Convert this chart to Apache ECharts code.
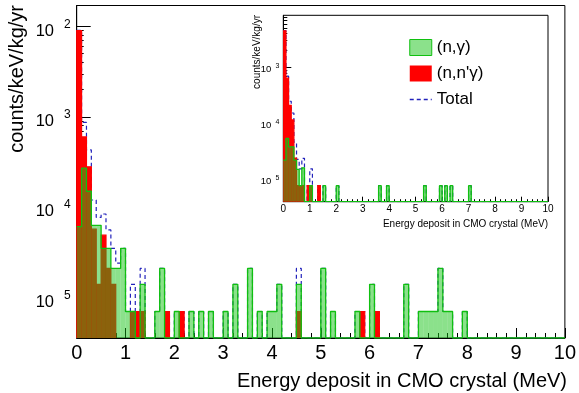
<!DOCTYPE html>
<html>
<head>
<meta charset="utf-8">
<script src="https://cdn.jsdelivr.net/npm/echarts@6/dist/echarts.min.js"></script>
<style>
  html, body { margin: 0; padding: 0; background: #fff; }
  #chart { width: 579px; height: 393px; }
</style>
</head>
<body>
<div id="chart"></div>
<script>
// Energy-deposit spectra, 0.1 MeV bins, given as [bin low edge (MeV), counts/keV/kg/yr]
const BIN = 0.1;
const E_MAX = 10;

// main panel
const mainNGamma = [
  [0.0, 6.1e-5], [0.1, 2.7e-4], [0.2, 1.5e-4], [0.3, 6.3e-5], [0.4, 6.3e-5],
  [0.5, 3.5e-5], [0.6, 3.5e-5], [0.7, 2.1e-5], [0.8, 2.1e-5], [0.9, 3.5e-5],
  [1.0, 7.0e-6], [1.1, 7.0e-6], [1.3, 1.4e-5], [1.6, 7.0e-6], [1.7, 2.1e-5],
  [2.0, 7.0e-6], [2.3, 7.0e-6], [2.5, 7.0e-6], [2.7, 7.0e-6], [3.0, 7.0e-6],
  [3.2, 1.4e-5], [3.5, 2.1e-5], [3.7, 7.0e-6], [3.9, 7.0e-6], [4.0, 7.0e-6],
  [4.1, 1.4e-5], [4.5, 1.4e-5], [5.0, 2.1e-5], [5.2, 7.0e-6], [5.7, 7.0e-6],
  [6.0, 1.4e-5], [6.7, 1.4e-5], [7.0, 7.0e-6], [7.1, 7.0e-6], [7.2, 7.0e-6],
  [7.3, 7.0e-6], [7.4, 2.1e-5], [7.5, 7.0e-6], [7.6, 7.0e-6], [7.9, 7.0e-6]
];
const mainNNGamma = [
  [0.0, 9.0e-3], [0.1, 6.0e-4], [0.2, 2.8e-4], [0.3, 5.7e-5], [0.4, 1.4e-5],
  [0.5, 4.9e-5], [0.6, 2.1e-5], [0.7, 1.4e-5], [0.8, 3.0e-6], [1.1, 7.0e-6],
  [1.2, 7.0e-6], [1.3, 7.0e-6], [1.8, 7.0e-6], [2.1, 7.0e-6], [4.5, 7.0e-6],
  [5.8, 7.0e-6], [6.1, 7.0e-6]
];
const mainTotal = [
  [0.0, 9.06e-3], [0.1, 8.7e-4], [0.2, 4.3e-4], [0.3, 1.2e-4], [0.4, 7.7e-5],
  [0.5, 8.4e-5], [0.6, 5.6e-5], [0.7, 3.5e-5], [0.8, 2.4e-5], [0.9, 3.5e-5],
  [1.0, 7.0e-6], [1.1, 1.4e-5], [1.2, 7.0e-6], [1.3, 2.1e-5], [1.6, 7.0e-6],
  [1.7, 2.1e-5], [1.8, 7.0e-6], [2.0, 7.0e-6], [2.1, 7.0e-6], [2.3, 7.0e-6],
  [2.5, 7.0e-6], [2.7, 7.0e-6], [3.0, 7.0e-6], [3.2, 1.4e-5], [3.5, 2.1e-5],
  [3.7, 7.0e-6], [3.9, 7.0e-6], [4.0, 7.0e-6], [4.1, 1.4e-5], [4.5, 2.1e-5],
  [5.0, 2.1e-5], [5.2, 7.0e-6], [5.7, 7.0e-6], [5.8, 7.0e-6], [6.0, 1.4e-5],
  [6.1, 7.0e-6], [6.7, 1.4e-5], [7.0, 7.0e-6], [7.1, 7.0e-6], [7.2, 7.0e-6],
  [7.3, 7.0e-6], [7.4, 2.1e-5], [7.5, 7.0e-6], [7.6, 7.0e-6], [7.9, 7.0e-6]
];

// inset panel
const insetNGamma = [
  [0.0, 2.2e-5], [0.1, 5.4e-5], [0.2, 3.8e-5], [0.3, 3.8e-5], [0.4, 2.2e-5],
  [0.5, 1.5e-5], [0.6, 7.7e-6], [0.7, 1.6e-5], [1.0, 7.7e-6], [1.5, 7.7e-6],
  [2.0, 7.7e-6], [3.6, 7.7e-6], [3.9, 7.7e-6], [5.3, 7.7e-6], [5.9, 7.7e-6],
  [6.1, 7.7e-6], [6.3, 7.7e-6], [7.0, 7.7e-6]
];
const insetNNGamma = [
  [0.0, 4.5e-3], [0.1, 6.4e-4], [0.2, 2.1e-4], [0.3, 1.15e-4], [0.4, 2.4e-5],
  [0.5, 7.7e-6], [0.6, 7.7e-6], [0.7, 7.7e-6], [0.9, 7.7e-6], [1.0, 7.7e-6],
  [1.3, 7.7e-6]
];
const insetTotal = [
  [0.0, 4.52e-3], [0.1, 6.94e-4], [0.2, 2.48e-4], [0.3, 1.53e-4], [0.4, 4.6e-5],
  [0.5, 2.27e-5], [0.6, 1.54e-5], [0.7, 2.37e-5], [0.9, 7.7e-6], [1.0, 1.54e-5],
  [1.3, 7.7e-6], [1.5, 7.7e-6], [2.0, 7.7e-6], [3.6, 7.7e-6], [3.9, 7.7e-6],
  [5.3, 7.7e-6], [5.9, 7.7e-6], [6.1, 7.7e-6], [6.3, 7.7e-6], [7.0, 7.7e-6]
];

const xTickLabels = ['0', '1', '2', '3', '4', '5', '6', '7', '8', '9', '10'];

const MAIN_Y = [3.56e-6, 1.71e-2];
const INSET_Y = [3.98e-6, 8.5e-3];

// histogram outline points: one per bin edge, empty bins sit on the axis floor
function stepPoints(spec, floor) {
  const vals = new Array(Math.round(E_MAX / BIN)).fill(0);
  spec.forEach(([e, v]) => { vals[Math.round(e / BIN)] = v; });
  const pts = vals.map((v, i) => [i * BIN, Math.max(v, floor)]);
  pts.push([E_MAX, pts[pts.length - 1][1]]);
  return pts;
}

const GREEN = '#10c010';
const GREEN_FILL = 'rgba(24, 196, 24, 0.5)';
const RED = '#ff0000';
const BLUE = '#2222bb';
const FONT = 'Liberation Sans, Arial, Helvetica, sans-serif';

function barRender(fill, stroke) {
  return function (params, api) {
    const e = api.value(0), v = api.value(1);
    const p0 = api.coord([e, v]);
    const p1 = api.coord([e + BIN, v]);
    const cs = params.coordSys;
    const bottom = cs.y + cs.height;
    const top = Math.max(p0[1], cs.y);
    if (top >= bottom) return null; // below the axis floor: nothing visible
    return {
      type: 'rect',
      shape: { x: p0[0], y: top, width: p1[0] - p0[0], height: bottom - top },
      style: { fill: fill, stroke: stroke, lineWidth: stroke ? 1.2 : 0 }
    };
  };
}

function powLabel(v) {
  const e = Math.log10(v);
  const r = Math.round(e);
  if (Math.abs(e - r) > 1e-6) return '';
  return '{b|10}{e|' + Math.abs(r) + '}';
}

function minorLogTicks(lo, hi) {
  const out = [];
  for (let p = Math.floor(Math.log10(lo)); p <= Math.ceil(Math.log10(hi)); p++) {
    for (let k = 2; k <= 9; k++) {
      const lv = Math.log10(k) + p;
      if (lv > Math.log10(lo) && lv < Math.log10(hi)) out.push(lv);
    }
  }
  return out;
}

function panelSeries(ng, nng, tot, xi, yi, floor, named) {
  return [
    {
      type: 'line', name: named ? 'Total' : 'Total ', xAxisIndex: xi, yAxisIndex: yi,
      data: stepPoints(tot, floor), step: 'end', symbol: 'none', silent: true,
      lineStyle: { color: BLUE, width: 1.2, type: [4, 3] }, itemStyle: { color: BLUE },
      z: 2
    },
    {
      type: 'custom', name: named ? '(n,n\'\u03b3)' : 'nn', xAxisIndex: xi, yAxisIndex: yi,
      data: nng, renderItem: barRender(RED, RED), itemStyle: { color: RED }, z: 3, silent: true, clip: true
    },
    {
      type: 'custom', name: named ? '(n,\u03b3)' : 'ng', xAxisIndex: xi, yAxisIndex: yi,
      data: ng, renderItem: barRender(GREEN_FILL, null), itemStyle: { color: GREEN_FILL, borderColor: GREEN, borderWidth: 1 },
      z: 4, silent: true, clip: true
    },
    {
      type: 'line', name: 'outline', xAxisIndex: xi, yAxisIndex: yi,
      data: stepPoints(ng, floor), step: 'end', symbol: 'none', silent: true,
      lineStyle: { color: GREEN, width: 1.3 }, z: 5
    }
  ];
}

const chart = echarts.init(document.getElementById('chart'), null, { renderer: 'canvas' });

const MAIN_GRID = { left: 76.7, right: 10.7, top: 5.5, bottom: 55 };
const INSET_GRID = { left: 283.3, right: 31, top: 15.3, bottom: 191.3 };

function xAxisCfg(gi, fs, major, minor, margin) {
  return {
    type: 'value', gridIndex: gi, min: 0, max: E_MAX, interval: 1,
    axisLine: { show: true, lineStyle: { color: '#000', width: 1 } },
    axisTick: { show: true, inside: true, length: major, lineStyle: { color: '#000' } },
    minorTick: { show: true, splitNumber: 5, length: minor, lineStyle: { color: '#000' } },
    splitLine: { show: false },
    axisLabel: {
      fontSize: fs, fontFamily: FONT, color: '#000', margin: margin,
      formatter: v => xTickLabels[Math.round(v)] || ''
    }
  };
}

const option = {
  animation: false,
  backgroundColor: '#fff',
  grid: [
    Object.assign({ show: true, borderColor: '#000', borderWidth: 1, backgroundColor: 'transparent', z: 0 }, MAIN_GRID),
    Object.assign({ show: true, borderColor: '#000', borderWidth: 1, backgroundColor: '#fff', z: 0 }, INSET_GRID),
    Object.assign({ show: false }, MAIN_GRID),
    Object.assign({ show: false }, INSET_GRID)
  ],
  xAxis: [
    xAxisCfg(0, 20, 10, 5, 5),
    xAxisCfg(1, 10, 5, 2.5, 3),
    { type: 'value', gridIndex: 2, min: 0, max: E_MAX, show: false },
    { type: 'value', gridIndex: 3, min: 0, max: E_MAX, show: false }
  ],
  yAxis: [
    {
      type: 'log', gridIndex: 0, logBase: 10, min: MAIN_Y[0], max: MAIN_Y[1],
      axisLine: { show: true, lineStyle: { color: '#000' } },
      axisTick: { show: true, inside: true, length: 14, lineStyle: { color: '#000' } },
      splitLine: { show: false },
      axisLabel: {
        formatter: powLabel, margin: 6, showMinLabel: false, showMaxLabel: false,
        rich: {
          b: { fontSize: 16.5, fontFamily: FONT, color: '#000', padding: [9, 0, 0, 0] },
          e: { fontSize: 12, fontFamily: FONT, color: '#000', padding: [0, 0, 4, 10] }
        }
      }
    },
    {
      type: 'log', gridIndex: 1, logBase: 10, min: INSET_Y[0], max: INSET_Y[1],
      axisLine: { show: true, lineStyle: { color: '#000' } },
      axisTick: { show: true, inside: true, length: 8, lineStyle: { color: '#000' } },
      splitLine: { show: false },
      axisLabel: {
        formatter: powLabel, margin: 4, showMinLabel: false, showMaxLabel: false,
        rich: {
          b: { fontSize: 9.5, fontFamily: FONT, color: '#000', padding: [5, 0, 0, 0] },
          e: { fontSize: 7, fontFamily: FONT, color: '#000', padding: [0, 0, 3, 4] }
        }
      }
    },
    {
      type: 'value', gridIndex: 2, min: Math.log10(MAIN_Y[0]), max: Math.log10(MAIN_Y[1]),
      axisLine: { show: false }, splitLine: { show: false }, axisLabel: { show: false },
      axisTick: { show: true, inside: true, length: 7, customValues: minorLogTicks(MAIN_Y[0], MAIN_Y[1]), lineStyle: { color: '#000' } }
    },
    {
      type: 'value', gridIndex: 3, min: Math.log10(INSET_Y[0]), max: Math.log10(INSET_Y[1]),
      axisLine: { show: false }, splitLine: { show: false }, axisLabel: { show: false },
      axisTick: { show: true, inside: true, length: 4, customValues: minorLogTicks(INSET_Y[0], INSET_Y[1]), lineStyle: { color: '#000' } }
    }
  ],
  legend: {
    orient: 'vertical', left: 404, top: 34, itemWidth: 22, itemHeight: 16, itemGap: 9,
    textStyle: { fontSize: 17, fontFamily: FONT, color: '#000' },
    data: [
      { name: '(n,\u03b3)', icon: 'rect', itemStyle: { color: GREEN_FILL, borderColor: GREEN, borderWidth: 1 } },
      { name: '(n,n\'\u03b3)', icon: 'rect', itemStyle: { color: RED } },
      { name: 'Total', itemStyle: { opacity: 0 }, lineStyle: { color: BLUE, width: 1.5, type: [4, 3] } }
    ],
    selectedMode: false
  },
  graphic: [
    { type: 'text', x: 567, y: 381, style: { text: 'Energy deposit in CMO crystal (MeV)', font: '20px ' + FONT, fill: '#000', align: 'right', verticalAlign: 'middle' } },
    { type: 'text', x: 17.5, y: 5, rotation: Math.PI / 2, style: { text: 'counts/keV/kg/yr', font: '20px ' + FONT, fill: '#000', align: 'right', verticalAlign: 'middle' } },
    { type: 'text', x: 548, y: 224, style: { text: 'Energy deposit in CMO crystal (MeV)', font: '10px ' + FONT, fill: '#000', align: 'right', verticalAlign: 'middle' } },
    { type: 'text', x: 257, y: 15, rotation: Math.PI / 2, style: { text: 'counts/keV/kg/yr', font: '10px ' + FONT, fill: '#000', align: 'right', verticalAlign: 'middle' } }
  ],
  series: [
    ...panelSeries(mainNGamma, mainNNGamma, mainTotal, 0, 0, MAIN_Y[0], false),
    ...panelSeries(insetNGamma, insetNNGamma, insetTotal, 1, 1, INSET_Y[0], true)
  ]
};

chart.setOption(option);
</script>
</body>
</html>
